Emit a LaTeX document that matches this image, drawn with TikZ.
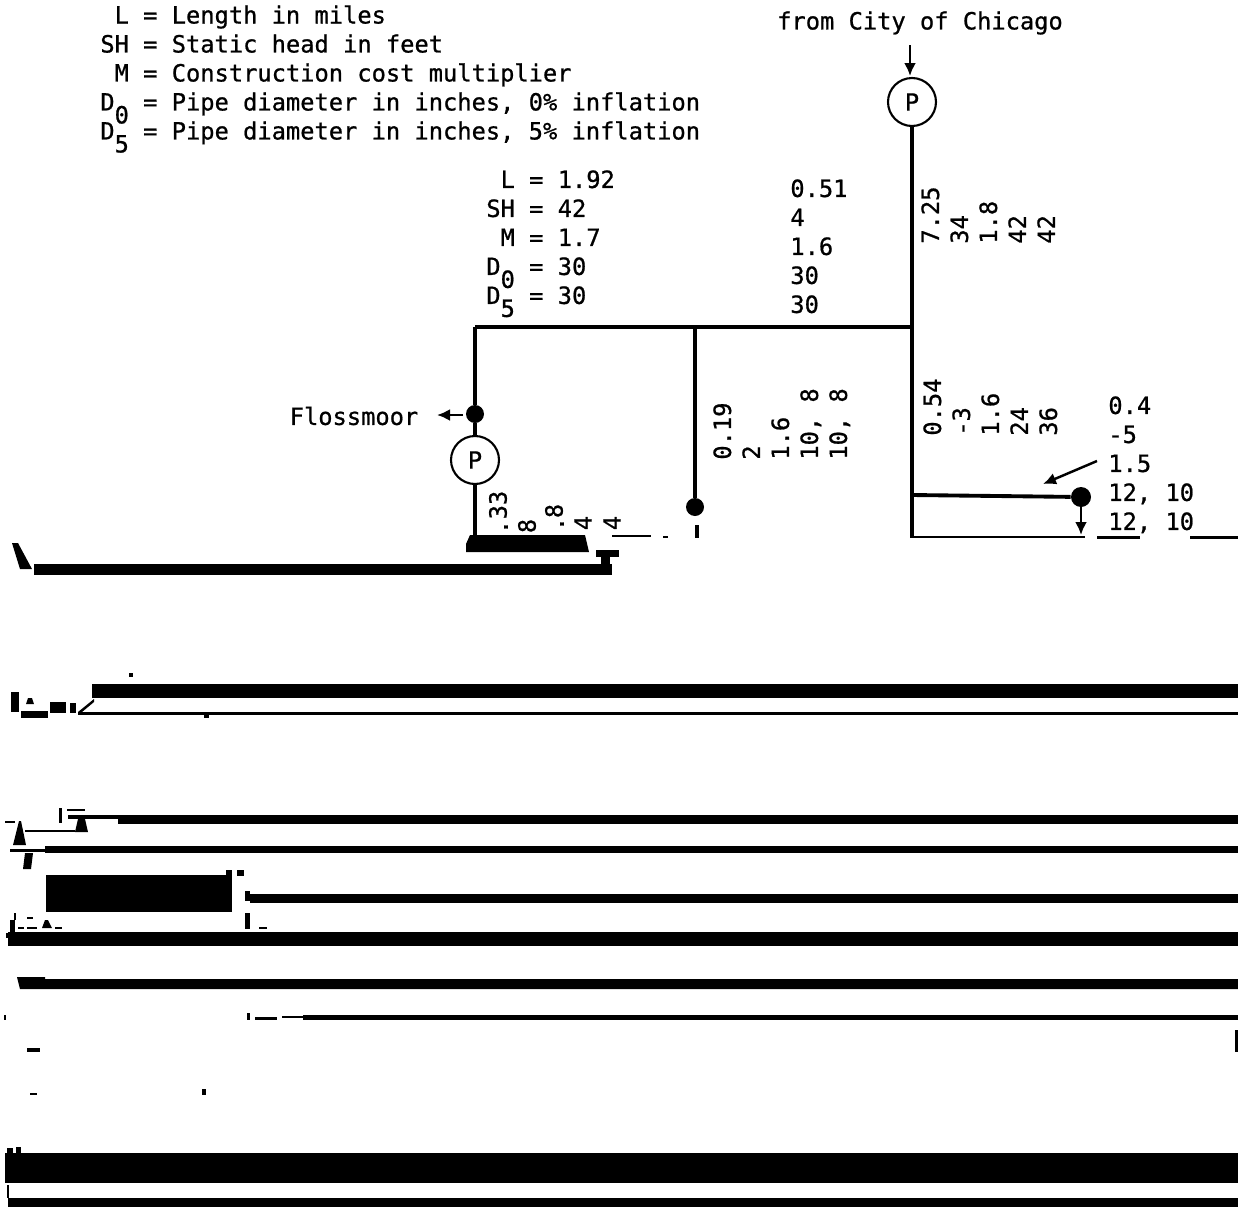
\documentclass[tikz,border=0pt]{standalone}
\usepackage{fontspec}
\usepackage{xcolor}
\setmonofont[FakeBold=0.8]{DejaVu Sans Mono}
\usetikzlibrary{arrows.meta}
\newcommand{\lowdigit}[1]{\smash{\raisebox{-1ex}{#1}}}
\tikzset{
  tabletext/.style={
    font=\ttfamily\fontsize{13.5}{16.5}\selectfont,
    align=left,
    inner sep=0pt
  },
  uptext/.style={
    tabletext,
    rotate=90,
    anchor=north west
  },
  upglyph/.style={
    tabletext,
    rotate=90
  },
  pumpnode/.style={
    circle,
    draw,
    line width=1.2pt,
    fill=white,
    minimum size=0.96cm,
    inner sep=0pt,
    font=\ttfamily\fontsize{13.5}{16.5}\selectfont
  },
  taponode/.style={
    circle,
    fill=black,
    minimum size=0.36cm,
    inner sep=0pt
  },
  pipeline/.style={
    line width=2.2pt
  },
  thinpipe/.style={
    line width=1.4pt
  },
  flowarrow/.style={
    -{Latex[length=2.6mm,width=2.4mm]},
    line width=1.4pt
  },
  scanbar/.style={
    fill=black
  }
}
\begin{document}
\begin{tikzpicture}[x=0.02cm,y=-0.02cm]
    \useasboundingbox (0,0) rectangle (1238,1207);

    \node[tabletext, anchor=north west] (legend) at (100,5) {
        \phantom{S}L = Length in miles\\
        SH = Static head in feet\\
        \phantom{S}M = Construction cost multiplier\\
        D\lowdigit{0} = Pipe diameter in inches, 0\% inflation\\
        D\lowdigit{5} = Pipe diameter in inches, 5\% inflation
    };
    \node[tabletext, anchor=north west] (leftvalues) at (486,170) {
        \phantom{S}L = 1.92\\
        SH = 42\\
        \phantom{S}M = 1.7\\
        D\lowdigit{0} = 30\\
        D\lowdigit{5} = 30
    };
    \node[tabletext, anchor=north west] (midvalues) at (790,179) {
        0.51\\
        4\\
        1.6\\
        30\\
        30
    };
    \node[tabletext, anchor=north west] (branchvalues) at (1108,396) {
        0.4\\
        -5\\
        1.5\\
        12, 10\\
        12, 10
    };
    \node[uptext] (cityvalues) at (921,244) {
        7.25\\
        34\\
        1.8\\
        42\\
        42
    };
    \node[uptext] (southvalues) at (923,436) {
        0.54\\
        -3\\
        1.6\\
        24\\
        36
    };
    \node[uptext] (stubvalues) at (713,460) {
        0.19\\
        2\\
        1.6\\
        10, 8\\
        10, 8
    };

    \node[upglyph] (cutthree) at (498,505) {33};
    \node[upglyph] (cutdota) at (506,527) {.};
    \node[upglyph] (cuteighta) at (527,526) {8};
    \node[upglyph] (cuteightb) at (554,511) {8};
    \node[upglyph] (cutdotb) at (562,524) {.};
    \node[upglyph] (cutfoura) at (583,523) {4};
    \node[upglyph] (cutfourb) at (612,523) {4};

    \node[tabletext] (city) at (920,23) {from City of Chicago};
    \node[tabletext] (flossmoor) at (354,416) {Flossmoor};

    \node[pumpnode] (citypump) at (912,102) {P};
    \node[pumpnode] (flosspump) at (475,460) {P};
    \node[taponode] (flosstap) at (475,414) {};
    \node[taponode] (stubtap) at (695,507) {};
    \node[taponode, minimum size=0.4cm] (branchtap) at (1081,497) {};

    \coordinate (mainjoint) at (912,327);
    \coordinate (leftjoint) at (475,327);
    \coordinate (stubjoint) at (695,327);
    \coordinate (branchjoint) at (912,495);
    \coordinate (mainend) at (912,538);
    \coordinate (flossend) at (475,536);
    \coordinate (cityarrow) at (910,45);
    \coordinate (cityarrowend) at (910,76);
    \coordinate (flossarrow) at (463,415);
    \coordinate (flossarrowend) at (437,415);
    \coordinate (brancharrow) at (1097,461);
    \coordinate (brancharrowend) at (1043,484);
    \coordinate (downarrowend) at (1081,535);
    \coordinate (lowerright) at (1085,537);

    \draw[pipeline] (citypump) -- (mainjoint);
    \draw[pipeline] (mainjoint) -- (mainend);
    \draw[pipeline] (leftjoint) -- (mainjoint);
    \draw[pipeline] (leftjoint) -- (flosstap);
    \draw[pipeline] (flosstap) -- (flosspump);
    \draw[pipeline] (flosspump) -- (flossend);
    \draw[pipeline] (stubjoint) -- (stubtap);
    \draw[pipeline] (branchjoint) -- (branchtap);
    \draw[thinpipe] (mainend |- lowerright) -- (lowerright);
    \draw[flowarrow] (cityarrow) -- (cityarrowend);
    \draw[flowarrow] (flossarrow) -- (flossarrowend);
    \draw[flowarrow] (brancharrow) -- (brancharrowend);
    \draw[flowarrow] (branchtap) -- (downarrowend);

    \fill[scanbar] (1097,536) rectangle (1140,539);
    \fill[scanbar] (1190,536) rectangle (1238,539);
    \fill[scanbar] (695,525) rectangle (699,538);
    \fill[scanbar] (612,535) rectangle (651,537);
    \fill[scanbar] (663,536) rectangle (668,538);
    \fill[scanbar] (470,535) -- (585,535) -- (589,552) -- (466,552) -- (466,544) -- cycle;
    \fill[scanbar] (596,550) rectangle (619,557);
    \fill[scanbar] (601,557) rectangle (610,565);
    \fill[scanbar] (34,564) rectangle (612,575);
    \fill[scanbar] (12,543) -- (18,543) -- (32,569) -- (20,569) -- cycle;
    \fill[scanbar] (92,684) rectangle (1238,698);
    \fill[scanbar] (78,712) rectangle (1238,715);
    \fill[scanbar] (78,712) -- (94,699) -- (94,702) -- (82,712) -- cycle;
    \fill[scanbar] (21,711) rectangle (48,718);
    \fill[scanbar] (11,692) rectangle (19,712);
    \fill[scanbar] (50,702) rectangle (66,713);
    \fill[scanbar] (70,703) rectangle (76,713);
    \fill[scanbar] (28,698) -- (32,698) -- (34,704) -- (26,704) -- cycle;
    \fill[scanbar] (129,673) rectangle (133,677);
    \fill[scanbar] (204,715) rectangle (209,718);
    \fill[scanbar] (118,815) rectangle (1238,824);
    \fill[scanbar] (68,815) rectangle (118,819);
    \fill[scanbar] (67,809) rectangle (85,811);
    \fill[scanbar] (59,808) rectangle (62,823);
    \fill[scanbar] (78,819) -- (85,819) -- (88,832) -- (75,832) -- cycle;
    \fill[scanbar] (25,830) rectangle (75,832);
    \fill[scanbar] (19,821) -- (21,821) -- (26,845) -- (13,845) -- cycle;
    \fill[scanbar] (5,821) rectangle (15,823);
    \fill[scanbar] (45,846) rectangle (1238,853);
    \fill[scanbar] (10,849) rectangle (45,852);
    \fill[scanbar] (25,853) -- (33,853) -- (31,869) -- (23,869) -- cycle;
    \fill[scanbar] (46,875) rectangle (232,912);
    \fill[scanbar] (226,870) rectangle (232,875);
    \fill[scanbar] (237,870) rectangle (244,876);
    \fill[scanbar] (250,894) rectangle (1238,903);
    \fill[scanbar] (245,891) rectangle (250,901);
    \fill[scanbar] (245,913) rectangle (250,929);
    \fill[scanbar] (259,927) rectangle (267,929);
    \fill[scanbar] (8,932) rectangle (1238,946);
    \fill[scanbar] (6,933) rectangle (30,938);
    \fill[scanbar] (10,920) rectangle (15,933);
    \fill[scanbar] (14,913) rectangle (16,920);
    \fill[scanbar] (45,920) -- (48,920) -- (52,928) -- (42,928) -- cycle;
    \fill[scanbar] (18,927) rectangle (24,929);
    \fill[scanbar] (27,927) rectangle (37,929);
    \fill[scanbar] (55,927) rectangle (62,929);
    \fill[scanbar] (27,917) rectangle (33,919);
    \fill[scanbar] (17,977) -- (45,977) -- (45,979) -- (1238,979) -- (1238,989) -- (20,989) -- cycle;
    \fill[scanbar] (303,1015) rectangle (1238,1020);
    \fill[scanbar] (282,1016) rectangle (303,1018);
    \fill[scanbar] (255,1017) rectangle (277,1020);
    \fill[scanbar] (247,1013) rectangle (250,1020);
    \fill[scanbar] (4,1015) rectangle (6,1020);
    \fill[scanbar] (27,1048) rectangle (40,1052);
    \fill[scanbar] (30,1093) rectangle (37,1095);
    \fill[scanbar] (202,1089) rectangle (206,1095);
    \fill[scanbar] (5,1153) rectangle (1238,1183);
    \fill[scanbar] (7,1148) rectangle (13,1153);
    \fill[scanbar] (16,1147) rectangle (21,1153);
    \fill[scanbar] (8,1198) rectangle (1238,1207);
    \fill[scanbar] (7,1185) rectangle (9,1198);
    \fill[scanbar] (1235,1030) rectangle (1238,1052);
\end{tikzpicture}
\end{document}
